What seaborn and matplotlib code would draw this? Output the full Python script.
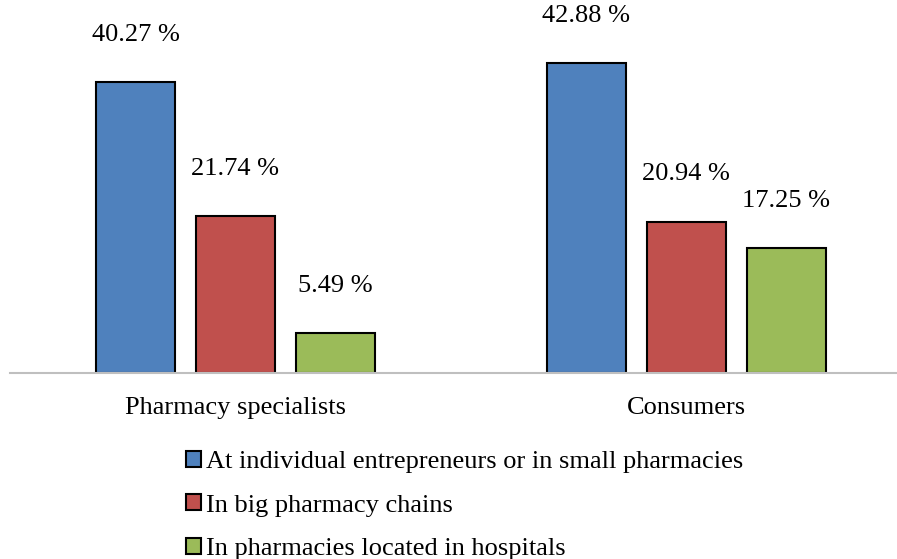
import matplotlib
matplotlib.use("Agg")
import matplotlib.pyplot as plt
import seaborn as sns
import pandas as pd
from matplotlib.patches import Patch

groups = ["Pharmacy specialists", "Consumers"]
series = ["At individual entrepreneurs or in small pharmacies",
          "In big pharmacy chains",
          "In pharmacies located in hospitals"]
values = {
    series[0]: [40.27, 42.88],
    series[1]: [21.74, 20.94],
    series[2]: [5.49, 17.25],
}
colors = ["#4F81BD", "#C0504D", "#9BBB59"]

rows = []
for s in series:
    for g, v in zip(groups, values[s]):
        rows.append({"group": g, "series": s, "value": v})
df = pd.DataFrame(rows)

sns.set_theme(style="white")
plt.rcParams['font.family'] = ['Liberation Serif', 'DejaVu Serif']
plt.rcParams['text.color'] = 'black'

W, H = 897, 559
fig = plt.figure(figsize=(W / 100, H / 100), dpi=100)
ax = fig.add_axes([10 / W, 186 / H, 887 / W, 361.5 / H])

sns.barplot(data=df, x="group", y="value", hue="series", hue_order=series,
            palette=colors, order=groups, width=0.665, gap=0.21,
            edgecolor="black", linewidth=1.5, ax=ax, legend=False, saturation=1)

for cont in ax.containers:
    ax.bar_label(cont, labels=[f"{v:.2f} %" for v in cont.datavalues],
                 padding=26, fontsize=19, color="black")

ax.set_ylim(0, 50)
ax.set_xlim(-0.5, 1.467)
ax.set_xlabel("")
ax.set_ylabel("")
ax.set_yticks([])
ax.tick_params(axis="x", length=0, pad=17, labelsize=19, colors="black")
for sp in ["top", "right", "left"]:
    ax.spines[sp].set_visible(False)
ax.spines["bottom"].set_color("#bfbfbf")
ax.spines["bottom"].set_linewidth(1.5)

handles = [Patch(facecolor=c, edgecolor="black", linewidth=1.5) for c in colors]
leg = fig.legend(handles, series, loc="upper left", bbox_to_anchor=(186 / W, 1 - 451 / H),
                 frameon=False, fontsize=19, handlelength=0.55, handleheight=0.55,
                 handletextpad=0.2, labelspacing=0.8, borderaxespad=0, borderpad=0)
for t in leg.get_texts():
    t.set_color("black")

fig.savefig("out.png", dpi=100)
